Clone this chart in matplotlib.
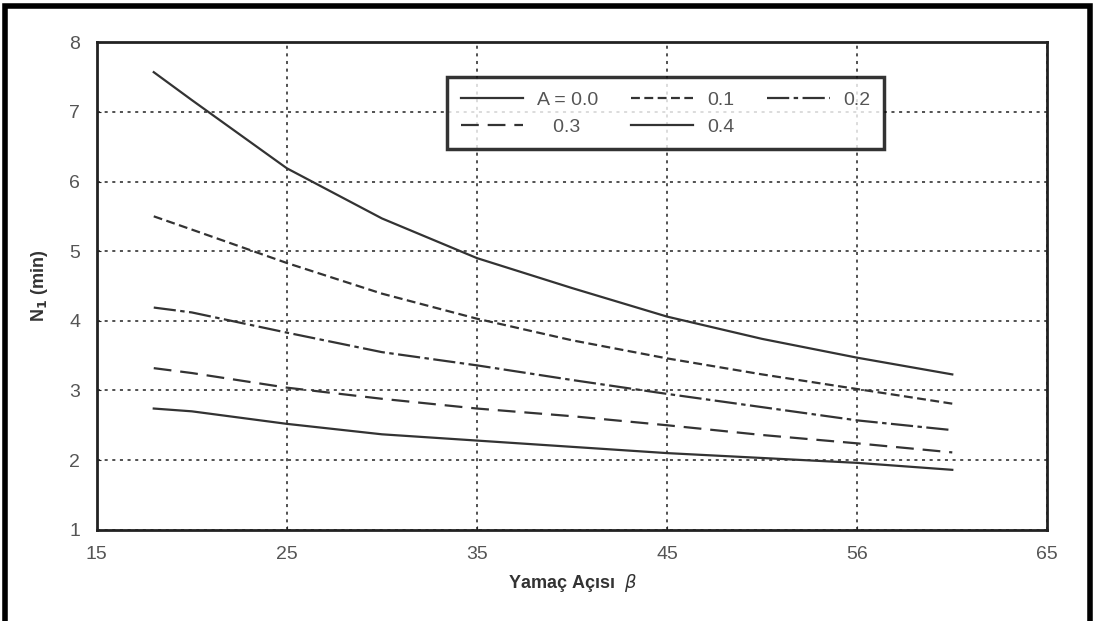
import numpy as np
import matplotlib
matplotlib.use("Agg")
import matplotlib.pyplot as plt
from matplotlib.patches import Rectangle

plt.rcParams["font.family"] = ["Liberation Sans", "DejaVu Sans"]

# Data
beta = [18, 20, 25, 30, 35, 40, 45, 50, 55, 60]
n_a00 = [7.57, 7.17, 6.19, 5.47, 4.90, 4.47, 4.06, 3.74, 3.47, 3.23]
n_a01 = [5.50, 5.31, 4.83, 4.39, 4.03, 3.72, 3.46, 3.23, 3.02, 2.81]
n_a02 = [4.19, 4.12, 3.83, 3.55, 3.36, 3.15, 2.95, 2.76, 2.57, 2.43]
n_a03 = [3.32, 3.25, 3.04, 2.88, 2.74, 2.63, 2.50, 2.36, 2.24, 2.11]
n_a04 = [2.74, 2.70, 2.52, 2.37, 2.28, 2.19, 2.10, 2.03, 1.96, 1.86]

labels = ["A = 0.0", "0.1", "0.2", "   0.3", "0.4"]
xticks = [15, 25, 35, 45, 55, 65]
xticklabels = ["15", "25", "35", "45", "56", "65"]
yticks = [1, 2, 3, 4, 5, 6, 7, 8]

fig = plt.figure(figsize=(10.99, 6.21), dpi=100)
ax = fig.add_axes([0.088, 0.147, 0.865, 0.785])

# outer scan frame
fig.patches.append(Rectangle((0.005, -0.01), 0.987, 1.0, transform=fig.transFigure,
                             fill=False, edgecolor="black", linewidth=4))

col = "#333333"
styles = ["-", (0, (4, 2)), (0, (10, 2, 2, 2)), (0, (8, 4)), "-"]
series = [n_a00, n_a01, n_a02, n_a03, n_a04]
handles = []
for s, ls, lab in zip(series, styles, labels):
    h, = ax.plot(beta, s, color=col, linestyle=ls, linewidth=1.6, label=lab)
    handles.append(h)

ax.set_xlim(15, 65)
ax.set_ylim(1, 8)
ax.set_xticks(xticks)
ax.set_xticklabels(xticklabels)
ax.set_yticks(yticks)
ax.grid(True, color="#222222", linestyle=(0, (2, 3)), linewidth=1.1)
ax.tick_params(direction="in", length=3, colors="#222222", labelcolor="#555555",
               labelsize=14, pad=12)
for sp in ax.spines.values():
    sp.set_linewidth(2)
    sp.set_color("#222222")

ax.set_xlabel("Yamaç Açısı  $\\beta$", fontsize=13, fontweight="bold", color="#333333",
              labelpad=6)
ax.set_ylabel("N$_\\mathbf{1}$ (min)", fontsize=13, fontweight="bold", color="#333333",
              labelpad=14)

# legend filled row by row like the original
order = [0, 3, 1, 4, 2]
leg = ax.legend([handles[i] for i in order], [labels[i] for i in order],
                ncol=3, loc="upper left", bbox_to_anchor=(0.369, 0.928),
                borderaxespad=0, frameon=True, fancybox=False, fontsize=14,
                handlelength=3.2, handletextpad=0.7, columnspacing=1.7,
                borderpad=0.7, labelspacing=0.5)
leg.get_frame().set_edgecolor("black")
leg.get_frame().set_linewidth(2.5)
for t in leg.get_texts():
    t.set_color("#555555")

fig.savefig("out.png", dpi=100)
